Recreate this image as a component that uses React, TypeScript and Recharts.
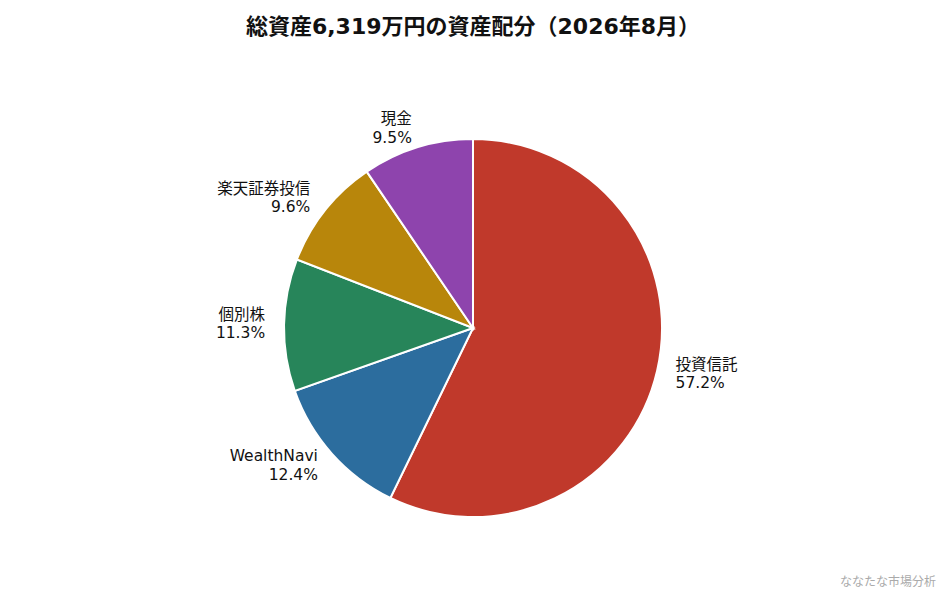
import React from 'react';
import { PieChart, Pie, Cell } from 'recharts';

const categories = ['投資信託', 'WealthNavi', '個別株', '楽天証券投信', '現金'];
const shares = [57.2, 12.4, 11.3, 9.6, 9.5];
const colors = ['#c0392b', '#2c6d9e', '#27855a', '#b8860b', '#8e44ad'];

const title = '総資産6,319万円の資産配分（2026年8月）';
const credit = 'ななたな市場分析';

const font = '"DejaVu Sans", "Noto Sans CJK JP", sans-serif';
const RAD = Math.PI / 180;

const data = categories.map((name, i) => ({ name, value: shares[i] }));

// two-line label at 1.1x radius, anchored away from the centre
const renderLabel = (props: any) => {
  const { cx, cy, midAngle, outerRadius, name, value } = props;
  const r = outerRadius * 1.1;
  const x = cx + r * Math.cos(-midAngle * RAD);
  const y = cy + r * Math.sin(-midAngle * RAD);
  const anchor = x > cx ? 'start' : 'end';
  return (
    <text x={x} y={y} textAnchor={anchor} fill="#111" fontSize={15.5} fontFamily={font}>
      <tspan x={x} y={y - 10} dominantBaseline="central">{name}</tspan>
      <tspan x={x} y={y + 8.5} dominantBaseline="central">{value.toFixed(1)}%</tspan>
    </text>
  );
};

export default function App() {
  return (
    <div style={{ position: 'absolute', left: 0, top: 0, width: 946, height: 594, background: '#fff', fontFamily: font }}>
      <div
        style={{
          position: 'absolute',
          left: 0,
          top: 12,
          width: 946,
          textAlign: 'center',
          fontSize: 22,
          fontWeight: 700,
          color: '#111',
          lineHeight: '30px',
        }}
      >
        {title}
      </div>
      <PieChart width={946} height={594} margin={{ top: 0, right: 0, bottom: 0, left: 0 }}>
        <Pie
          data={data}
          dataKey="value"
          nameKey="name"
          cx={473}
          cy={328}
          outerRadius={189}
          startAngle={90}
          endAngle={-270}
          stroke="#fff"
          strokeWidth={2}
          label={renderLabel}
          labelLine={false}
          isAnimationActive={false}
        >
          {data.map((d, i) => (
            <Cell key={d.name} fill={colors[i]} />
          ))}
        </Pie>
      </PieChart>
      <div
        style={{
          position: 'absolute',
          right: 10,
          top: 574,
          fontSize: 12,
          color: '#aaa',
          lineHeight: '16px',
        }}
      >
        {credit}
      </div>
    </div>
  );
}
